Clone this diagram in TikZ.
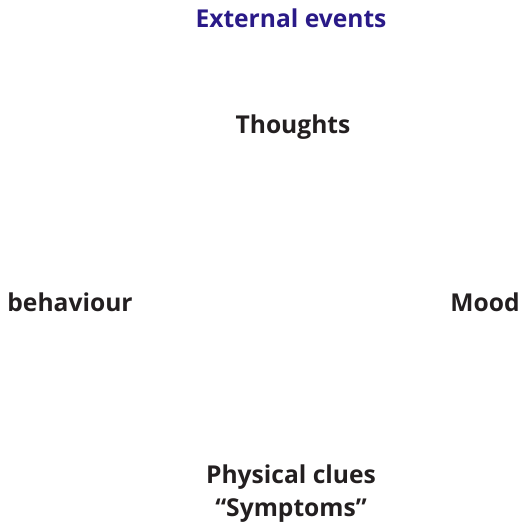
\documentclass[tikz,border=0pt]{standalone}
\usepackage{fontspec}
\setmainfont{Open Sans}
\usetikzlibrary{positioning}
\definecolor{eventblue}{HTML}{2A1A88}
\definecolor{textblack}{HTML}{231F20}

\begin{document}
\begin{tikzpicture} [x=0.5pt,y=-0.5pt,every node/.style={font=\bfseries\fontsize{12.3}{16.5}\selectfont,text=textblack,align=center,inner sep=0pt}]
  \useasboundingbox (0,0) rectangle (532,529);
  \node[text=eventblue] (events) at (291,18) {External events};
  \node (thoughts) at (293,127) {Thoughts};
  \node (behaviour) at (70,302) {behaviour};
  \node (mood) at (485,302) {Mood};
  \node (clues) at (291,494) {Physical clues\\“Symptoms”};
\end{tikzpicture}
\end{document}
